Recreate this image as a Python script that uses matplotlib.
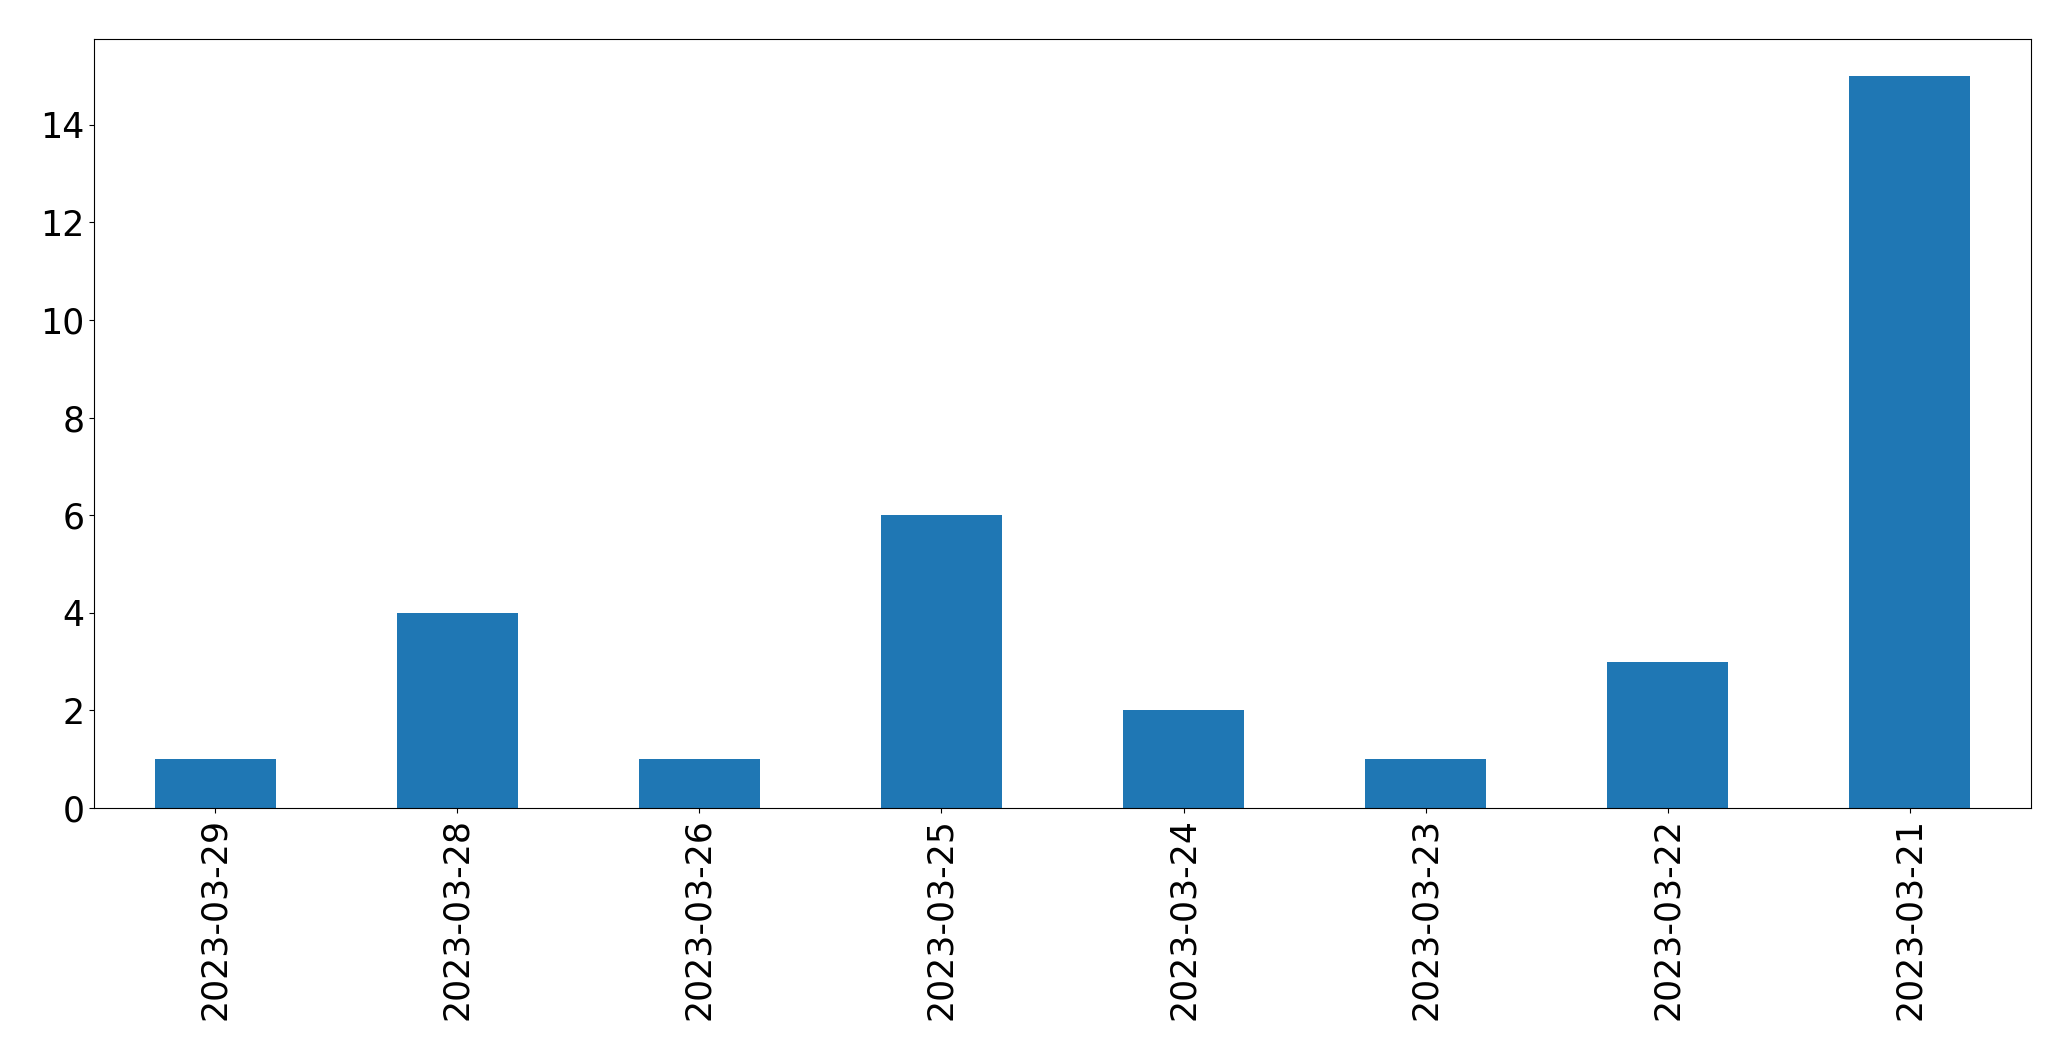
import matplotlib
matplotlib.use('Agg')
import matplotlib.pyplot as plt
import pandas as pd

dates = ['2023-03-29', '2023-03-28', '2023-03-26', '2023-03-25',
         '2023-03-24', '2023-03-23', '2023-03-22', '2023-03-21']
counts = [1, 4, 1, 6, 2, 1, 3, 15]

series = pd.Series(counts, index=dates)

fig, ax = plt.subplots(figsize=(20.71, 10.61), dpi=100)
series.plot.bar(ax=ax, color='#1f77b4', fontsize=25)
ax.tick_params(axis='both', labelsize=25)
fig.subplots_adjust(left=0.0454, right=0.9807, top=0.963, bottom=0.2385)
fig.savefig('out.png', dpi=100)
